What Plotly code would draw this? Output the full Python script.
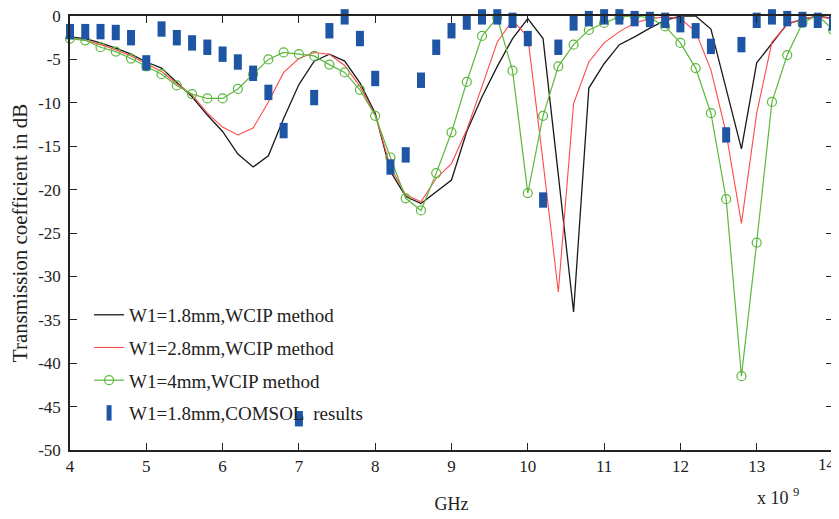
import plotly.graph_objects as go

# frequency grid in GHz (0.2 GHz steps)
freq = [round(4 + 0.2 * i, 1) for i in range(51)]

# W1 = 1.8 mm, WCIP
s21_18 = [-2.4, -2.6, -3.1, -3.7, -4.4, -5.3, -6.0, -7.6, -9.3, -11.4,
          -13.3, -15.9, -17.4, -16.1, -11.8, -7.9, -5.2, -4.4, -5.2, -7.7,
          -11.2, -17.9, -20.8, -21.6, -20.2, -18.9, -13.3, -9.3, -5.8, -2.6,
          -0.3, -2.6, -18.3, -34.1, -8.3, -5.5, -3.3, -2.4, -1.4, -0.5,
          0.0, 0.0, -1.5, -8.5, -15.3, -5.4, -3.1, -0.9, -0.4, 0.0,
          -0.3]

# W1 = 2.8 mm, WCIP
s21_28 = [-2.5, -2.8, -3.3, -3.9, -4.6, -5.5, -6.4, -7.8, -9.1, -11.2,
          -12.8, -13.7, -12.9, -9.9, -6.5, -4.9, -4.2, -4.4, -5.7, -8.1,
          -11.4, -17.4, -20.6, -21.4, -18.7, -17.0, -13.1, -8.1, -3.0, -0.5,
          -2.4, -16.8, -31.8, -10.1, -5.3, -3.1, -1.8, -0.8, -0.3, -0.1,
          -0.3, -1.8, -6.2, -13.5, -23.9, -11.2, -3.0, -1.0, -0.3, -0.1,
          -0.3]

# W1 = 4 mm, WCIP
s21_4 = [-2.6, -2.8, -3.6, -4.1, -4.9, -5.8, -6.7, -8.0, -9.0, -9.5,
         -9.5, -8.4, -6.7, -5.0, -4.2, -4.4, -4.6, -5.6, -6.5, -8.5,
         -11.5, -16.3, -21.0, -22.4, -18.1, -13.4, -7.6, -2.3, -0.2, -6.3,
         -20.4, -11.5, -5.8, -3.3, -1.6, -0.8, -0.1, 0.0, -0.2, -1.2,
         -3.1, -6.0, -11.2, -21.1, -41.5, -26.1, -9.9, -4.5, -0.8, 0.1,
         -1.6]

# W1 = 1.8 mm, COMSOL
comsol = [-1.8, -1.8, -1.8, -1.9, -2.5, -5.4, -1.5, -2.5, -3.1, -3.6,
          -4.4, -5.3, -6.6, -8.8, -13.2, -46.4, -9.4, -1.7, -0.1, -2.6,
          -7.2, -17.4, -16.0, -7.4, -3.6, -1.7, -0.7, -0.1, -0.1, -0.5,
          -2.6, -21.2, -3.6, -0.8, -0.3, -0.1, -0.1, -0.3, -0.4, -0.5,
          -1.0, -1.7, -3.5, -13.7, -3.3, -0.5, -0.1, -0.3, -0.4, -0.5,
          -0.8]

y_ticks = list(range(0, -55, -5))
x_ticks = list(range(4, 15))
# last x label would be clipped at the page edge, it is drawn separately below
x_labels = [str(v) for v in x_ticks[:-1]] + [""]

serif = "Liberation Serif"

fig = go.Figure()
fig.add_trace(go.Scatter(x=freq, y=s21_18, mode="lines", name="W1=1.8mm,WCIP method",
                         line=dict(color="#1a1a1a", width=1.3), legendgroup="a"))
fig.add_trace(go.Scatter(x=freq, y=s21_28, mode="lines", name="W1=2.8mm,WCIP method",
                         line=dict(color="#ff4a4a", width=1.1), legendgroup="b"))
fig.add_trace(go.Scatter(x=freq, y=s21_4, mode="lines+markers", name="W1=4mm,WCIP method",
                         line=dict(color="#5cb83c", width=1.2),
                         marker=dict(symbol="circle-open", size=9, color="#5cb83c",
                                     line=dict(width=1.2)),
                         legendgroup="c"))
fig.add_trace(go.Scatter(x=freq, y=comsol, mode="markers", name="W1=1.8mm,COMSOL  results",
                         marker=dict(symbol="line-ns", size=11, color="#1f55a5",
                                     line=dict(width=8, color="#1f55a5")),
                         legendgroup="d"))
fig.update_traces(cliponaxis=False)

# the page body adds an 8px offset, margins below account for it
fig.update_layout(
    width=839, height=519,
    margin=dict(l=62, r=14, t=8, b=77),
    plot_bgcolor="white", paper_bgcolor="white",
    font=dict(family=serif, size=16, color="#222"),
    showlegend=True,
    legend=dict(x=0.025, y=0.355, xanchor="left", yanchor="top",
                bgcolor="rgba(0,0,0,0)", font=dict(size=19, family=serif),
                tracegroupgap=5),
    xaxis=dict(range=[4, 14], tickvals=x_ticks, ticktext=x_labels,
               showgrid=False, zeroline=False, showline=True, linecolor="#222",
               linewidth=1.5, mirror="ticks", ticks="inside", ticklen=7,
               tickcolor="#222", tickfont=dict(size=17), automargin=False,
               title=dict(text="GHz", font=dict(size=18), standoff=22)),
    yaxis=dict(range=[-50, 0], tickvals=y_ticks, ticktext=[str(v) for v in y_ticks],
               showgrid=False, zeroline=False, showline=True, linecolor="#222",
               linewidth=1.5, mirror="ticks", ticks="inside", ticklen=7,
               tickcolor="#222", tickfont=dict(size=17), automargin=False,
               ticklabelstandoff=4, ticklabeloverflow="allow",
               title=dict(text="Transmission coefficient in dB", font=dict(size=21),
                          standoff=6)),
)

fig.add_annotation(x=1.0, y=0, xref="paper", yref="paper", xanchor="right",
                   yanchor="top", xshift=5, yshift=-3, showarrow=False,
                   text=str(x_ticks[-1]), font=dict(size=17, family=serif))

fig.add_annotation(x=0.958, y=-0.108, xref="paper", yref="paper", xanchor="right",
                   yanchor="middle", showarrow=False,
                   text="x 10 <sup>9</sup>", font=dict(size=18, family=serif))

fig.write_html("out.html")
